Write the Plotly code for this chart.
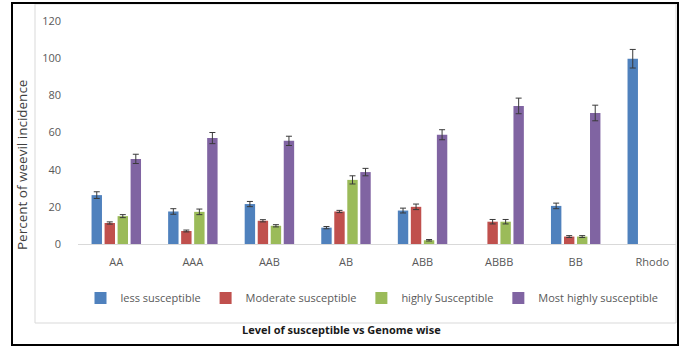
import plotly.graph_objects as go

# Genome groups along the x axis
genomes = ["AA", "AAA", "AAB", "AB", "ABB", "ABBB", "BB", "Rhodo"]

# Percent of weevil incidence per susceptibility level (None = not recorded)
less_susceptible = [26.3, 17.5, 21.5, 8.8, 18.0, None, 20.5, 99.7]
moderate_susceptible = [11.3, 7.0, 12.5, 17.5, 20.0, 12.0, 4.0, None]
highly_susceptible = [15.0, 17.3, 9.8, 34.5, 2.0, 12.0, 4.0, None]
most_highly_susceptible = [45.8, 57.0, 55.5, 38.7, 58.8, 74.3, 70.5, None]

# Standard error for each bar
err_less = [1.8, 1.5, 1.4, 0.6, 1.3, None, 1.5, 5.0]
err_moderate = [0.6, 0.5, 0.6, 0.6, 1.5, 1.2, 0.5, None]
err_highly = [0.8, 1.5, 0.6, 2.2, 0.4, 1.2, 0.5, None]
err_most = [2.5, 3.0, 2.5, 2.0, 2.7, 4.2, 4.2, None]

series = [
    ("less susceptible", less_susceptible, err_less, "#4F81BD"),
    ("Moderate susceptible", moderate_susceptible, err_moderate, "#C0504D"),
    ("highly Susceptible", highly_susceptible, err_highly, "#9BBB59"),
    ("Most highly susceptible", most_highly_susceptible, err_most, "#8064A2"),
]

fig = go.Figure()
for name, vals, errs, color in series:
    fig.add_trace(go.Bar(
        name=name,
        x=genomes,
        y=vals,
        marker=dict(color=color, line=dict(width=0)),
        error_y=dict(type="data", array=errs, visible=True,
                     color="#3a3a3a", thickness=1, width=3),
    ))

W, H = 684, 347
L, R, T, B = 78, 8, 21, 103
pw, ph = W - L - R, H - T - B


def px(x):
    return (x - L) / pw


def py(y):
    return (T + ph - y) / ph


font_family = "Open Sans, Liberation Sans, sans-serif"

fig.update_layout(
    width=W, height=H,
    margin=dict(l=L, r=R, t=T, b=B, autoexpand=False),
    paper_bgcolor="white",
    plot_bgcolor="white",
    barmode="group",
    bargap=0.32,
    bargroupgap=0.2,
    font=dict(family=font_family, size=11, color="#595959"),
    showlegend=True,
    legend=dict(
        orientation="h",
        x=px(372), xanchor="center",
        y=py(298), yanchor="middle",
        font=dict(size=11, color="#595959"),
        itemwidth=30,
        traceorder="normal",
        bgcolor="rgba(0,0,0,0)",
    ),
    xaxis=dict(
        range=[-0.5, 7.31],
        showline=True, linecolor="#D9D9D9", linewidth=1,
        showgrid=False, zeroline=False,
        ticks="", tickfont=dict(size=11, color="#595959"),
        ticklabelstandoff=8,
    ),
    yaxis=dict(
        range=[0, 120],
        tickvals=[0, 20, 40, 60, 80, 100, 120],
        showgrid=False, zeroline=False, showline=False,
        ticks="", tickfont=dict(size=11, color="#595959"),
        ticklabelstandoff=16,
    ),
    annotations=[
        dict(text="Percent of weevil incidence", textangle=-90,
             x=px(22), y=py(165), xref="paper", yref="paper",
             xanchor="center", yanchor="middle",
             showarrow=False, font=dict(size=13.5, color="#404040")),
        dict(text="<b>Level of susceptible vs Genome wise</b>",
             x=px(341), y=py(329), xref="paper", yref="paper",
             xanchor="center", yanchor="middle",
             showarrow=False, font=dict(size=11, color="#1a1a1a")),
    ],
    shapes=[
        # light chart-area frame
        dict(type="rect", xref="paper", yref="paper",
             x0=px(35), x1=px(676), y0=py(323), y1=py(4),
             line=dict(color="#D9D9D9", width=1)),
        # outer black frame
        dict(type="rect", xref="paper", yref="paper",
             x0=px(12), x1=px(678), y0=py(345), y1=py(3),
             line=dict(color="black", width=2)),
    ],
)

fig.write_html("out.html")
